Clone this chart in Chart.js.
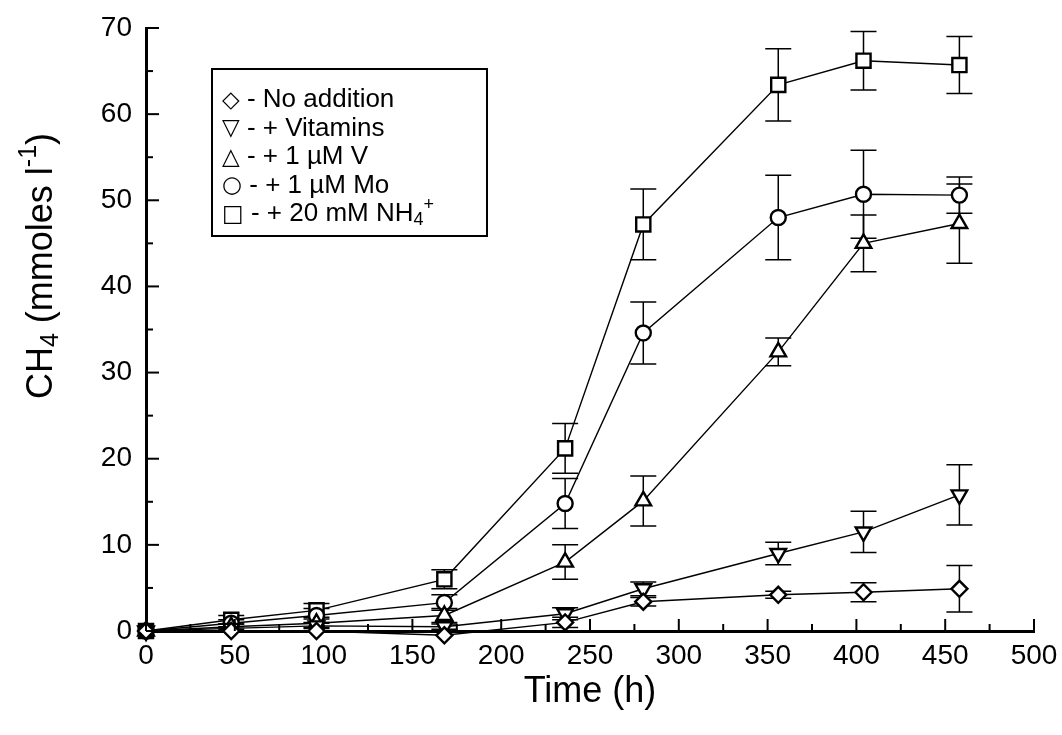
<!DOCTYPE html>
<html>
<head>
<meta charset="utf-8">
<script src="https://cdn.jsdelivr.net/npm/chart.js@4.4.1/dist/chart.umd.min.js"></script>
<style>
html,body{margin:0;padding:0;background:#fff;}
#wrap{width:1062px;height:735px;}
</style>
</head>
<body>
<div id="wrap"><canvas id="c" width="1062" height="735"></canvas></div>
<script>
// ---- data ----
const timeH = [0, 48, 96, 168, 236, 280, 356, 404, 458];
const noAddition = [0, 0, 0, -0.5, 1.0, 3.4, 4.2, 4.5, 4.9];
const noAdditionErr = [0, 0, 0, 0, 0.6, 0.5, 0.4, 1.1, 2.7];
const vitamins = [0, 0.3, 0.6, 0.5, 2.0, 4.9, 9.0, 11.5, 15.8];
const vitaminsErr = [0, 0, 0.3, 0.3, 0.7, 0.8, 1.3, 2.4, 3.5];
const vanadium = [0, 0.5, 0.9, 1.8, 8.0, 15.1, 32.4, 45.0, 47.3];
const vanadiumErr = [0, 0.3, 0.5, 0.8, 2.0, 2.9, 1.6, 3.3, 4.6];
const molybdenum = [0, 0.9, 1.8, 3.3, 14.8, 34.6, 48.0, 50.7, 50.6];
const molybdenumErr = [0, 0.4, 0.8, 0.9, 2.9, 3.6, 4.9, 5.1, 2.1];
const ammonium = [0, 1.3, 2.4, 6.0, 21.2, 47.2, 63.4, 66.2, 65.7];
const ammoniumErr = [0, 0.5, 0.8, 1.1, 2.9, 4.1, 4.2, 3.4, 3.3];

const seriesNames = ['No addition', '+ Vitamins', '+ 1 µM V', '+ 1 µM Mo', '+ 20 mM NH4+'];
const legendSymbols = ['◇', '▽', '△', '○', '□'];
const legendTexts = [' - No addition', ' - + Vitamins', ' - + 1 µM V', ' - + 1 µM Mo', ' - + 20 mM NH'];
const xTicks = [0, 50, 100, 150, 200, 250, 300, 350, 400, 450, 500];
const yTicks = [0, 10, 20, 30, 40, 50, 60, 70];
const xTitle = 'Time (h)';

const FONT = '"Liberation Sans", Arial, Helvetica, sans-serif';

function pts(vals){ return timeH.map((t,i)=>({x:t, y:vals[i]})); }

function ds(label, vals, errs, style, radius, rot){
  return {
    label: label, data: pts(vals), errors: errs,
    borderColor: '#000', borderWidth: 1.4, tension: 0, fill: false,
    pointStyle: style, pointRadius: radius, pointHoverRadius: radius,
    pointRotation: rot || 0,
    pointBackgroundColor: '#fff', pointBorderColor: '#000', pointBorderWidth: 2.4,
    clip: false
  };
}

const errorBars = {
  id: 'errorBars',
  beforeDatasetsDraw(chart){
    const ctx = chart.ctx, ys = chart.scales.y;
    ctx.save();
    ctx.strokeStyle = '#000'; ctx.lineWidth = 1.5;
    chart.data.datasets.forEach((d, di) => {
      const meta = chart.getDatasetMeta(di);
      meta.data.forEach((p, i) => {
        const e = d.errors[i];
        if (!e) return;
        const v = d.data[i].y;
        const y1 = ys.getPixelForValue(v + e), y2 = ys.getPixelForValue(v - e);
        const x = p.x, hw = 13;
        ctx.beginPath();
        ctx.moveTo(x, y1); ctx.lineTo(x, y2);
        ctx.moveTo(x - hw, y1); ctx.lineTo(x + hw, y1);
        ctx.moveTo(x - hw, y2); ctx.lineTo(x + hw, y2);
        ctx.stroke();
      });
    });
    ctx.restore();
  }
};

const decorations = {
  id: 'decorations',
  afterDraw(chart){
    const ctx = chart.ctx, xs = chart.scales.x, ys = chart.scales.y;
    const ca = chart.chartArea;
    ctx.save();
    ctx.strokeStyle = '#000'; ctx.lineWidth = 2;
    // inward ticks
    for (let v = 0; v <= 500; v += 25) {
      const x = xs.getPixelForValue(v);
      const len = (v % 50 === 0) ? 12 : 7;
      ctx.beginPath(); ctx.moveTo(x, ca.bottom); ctx.lineTo(x, ca.bottom - len); ctx.stroke();
    }
    for (let v = 0; v <= 70; v += 5) {
      const y = ys.getPixelForValue(v);
      const len = (v % 10 === 0) ? 13 : 7;
      ctx.beginPath(); ctx.moveTo(ca.left, y); ctx.lineTo(ca.left + len, y); ctx.stroke();
    }
    // x title
    ctx.fillStyle = '#000';
    ctx.font = '36px ' + FONT;
    ctx.textAlign = 'center'; ctx.textBaseline = 'middle';
    ctx.fillText(xTitle, (ca.left + ca.right) / 2, 692);
    // y title with sub/superscript
    ctx.save();
    ctx.translate(42, 266);
    ctx.rotate(-Math.PI / 2);
    const parts = [
      {t: 'CH', f: 36, dy: 0},
      {t: '4', f: 25, dy: 9},
      {t: ' (mmoles l', f: 36, dy: 0},
      {t: '-1', f: 25, dy: -13},
      {t: ')', f: 36, dy: 0}
    ];
    let total = 0;
    parts.forEach(p => { ctx.font = p.f + 'px ' + FONT; p.w = ctx.measureText(p.t).width; total += p.w; });
    let cx = -total / 2;
    ctx.textAlign = 'left'; ctx.textBaseline = 'middle';
    parts.forEach(p => { ctx.font = p.f + 'px ' + FONT; ctx.fillText(p.t, cx, p.dy); cx += p.w; });
    ctx.restore();
    // legend box
    ctx.lineWidth = 2;
    ctx.strokeRect(212, 69, 275, 167);
    ctx.textAlign = 'left'; ctx.textBaseline = 'middle';
    const rowY = [100, 128.5, 157, 185.5, 214];
    for (let i = 0; i < legendTexts.length; i++) {
      ctx.font = '23px "DejaVu Sans", sans-serif';
      const sw = ctx.measureText(legendSymbols[i]).width;
      ctx.fillText(legendSymbols[i], 222, rowY[i] + 1);
      ctx.font = '26px ' + FONT;
      let x0 = 222 + sw;
      ctx.fillText(legendTexts[i], x0, rowY[i]);
      if (i === 4) {
        const w = ctx.measureText(legendTexts[i]).width;
        ctx.font = '18px ' + FONT;
        ctx.fillText('4', x0 + w, rowY[i] + 6);
        const w4 = ctx.measureText('4').width;
        ctx.fillText('+', x0 + w + w4, rowY[i] - 9);
      }
    }
    ctx.restore();
  }
};

new Chart(document.getElementById('c'), {
  type: 'line',
  data: {
    datasets: [
      ds(seriesNames[0], noAddition, noAdditionErr, 'rectRot', 8),
      ds(seriesNames[1], vitamins, vitaminsErr, 'triangle', 9, 180),
      ds(seriesNames[2], vanadium, vanadiumErr, 'triangle', 9),
      ds(seriesNames[3], molybdenum, molybdenumErr, 'circle', 7.5),
      ds(seriesNames[4], ammonium, ammoniumErr, 'rect', 10)
    ]
  },
  options: {
    responsive: false,
    devicePixelRatio: 1,
    animation: false,
    layout: { padding: { top: 28, right: 28, left: 0, bottom: 0 } },
    plugins: { legend: { display: false }, tooltip: { enabled: false } },
    scales: {
      x: {
        type: 'linear', min: 0, max: 500,
        afterBuildTicks: s => { s.ticks = xTicks.map(v => ({value: v})); },
        afterFit: s => { s.height = 104; s.paddingLeft = 0; s.paddingRight = 0; },
        grid: { display: false, drawTicks: false },
        border: { display: true, color: '#000', width: 3 },
        ticks: { color: '#000', font: { family: FONT, size: 28 }, padding: 8, maxRotation: 0, autoSkip: false }
      },
      y: {
        type: 'linear', min: 0, max: 70,
        afterBuildTicks: s => { s.ticks = yTicks.map(v => ({value: v})); },
        afterFit: s => { s.width = 146; s.paddingTop = 0; s.paddingBottom = 0; },
        grid: { display: false, drawTicks: false },
        border: { display: true, color: '#000', width: 3 },
        ticks: { color: '#000', font: { family: FONT, size: 28 }, padding: 14, autoSkip: false }
      }
    }
  },
  plugins: [errorBars, decorations]
});
</script>
</body>
</html>
